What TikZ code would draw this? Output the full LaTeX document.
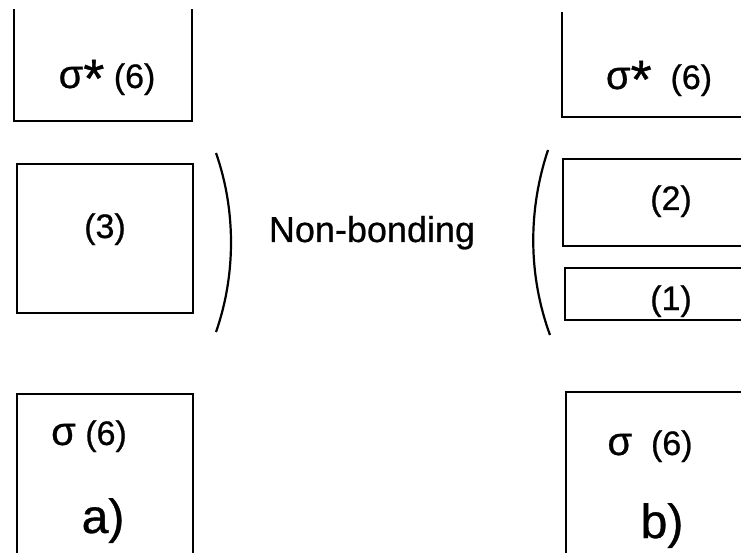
\documentclass[tikz,border=0pt]{standalone}
\usepackage{fontspec}
\setmainfont{Liberation Sans}[FakeBold=0.7]
\newcommand{\sig}{{\fontsize{40}{40}\selectfont σ}}
\newcommand{\astx}{\raisebox{-9pt}{\fontsize{54}{54}\selectfont *}}
\begin{document}
\begin{tikzpicture}[x=1pt,y=-1pt,
  band/.style={line width=2.3pt,line join=miter,line cap=rect},
  arc/.style={line width=2.2pt},
  lbl/.style={font=\fontsize{34}{40}\selectfont,inner sep=0pt,anchor=base},
  tag/.style={font=\fontsize{48}{56}\selectfont,inner sep=0pt,anchor=base}]
\fill[white] (0,0) rectangle (741,553);
\useasboundingbox (0,0) rectangle (741,553);

% column a): three levels
\draw[band] (14,10) |- (192,121) -- (192,10);
\draw[band] (17,164) rectangle (193,313);
\draw[band] (17,553) |- (193,394) -- (193,553);

% column b): the non-bonding level split in two
\draw[band] (562,13) |- (741,117);
\draw[band] (741,159) -| (563,246) -- (741,246);
\draw[band] (741,268) -| (565,320) -- (741,320);
\draw[band] (566,553) |- (741,392);

% brackets round the non-bonding levels
\draw[arc] (216,153) .. controls (236,210) and (236,275) .. (216,332);
\draw[arc] (548,150) .. controls (528,210) and (528,275) .. (550,335);

% labels
\node[lbl] (asa) at (107,88) {\sig\astx\ (6)};
\node[lbl] (an) at (105,238) {(3)};
\node[lbl] (as) at (89,445) {\sig\ (6)};
\node[tag] (at) at (103,533) {a)};

\node[lbl] (bsa) at (659,89) {\sig\astx\ \ (6)};
\node[lbl] (bn2) at (671,210) {(2)};
\node[lbl] (bn1) at (671,310) {(1)};
\node[lbl] (bs) at (650,455) {\sig\ \ (6)};
\node[tag] (bt) at (662,538) {b)};

\node[font=\fontsize{36}{42}\selectfont,inner sep=0pt,anchor=base] (nb) at (372,242) {Non-bonding};
\end{tikzpicture}
\end{document}
